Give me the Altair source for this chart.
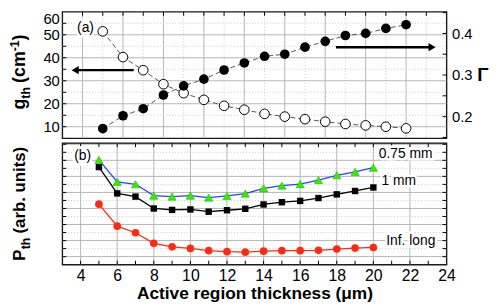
import altair as alt
import pandas as pd

# ---------------- data ----------------
thickness = [5, 6, 7, 8, 9, 10, 11, 12, 13, 14, 15, 16, 17, 18, 19, 20]
g_th = [51.5, 40.3, 34.6, 28.5, 24.6, 21.7, 19.1, 17.4, 15.6, 14.4, 13.3, 12.2, 11.2, 10.6, 10.0, 9.3]
gamma = [0.171, 0.202, 0.219, 0.252, 0.274, 0.290, 0.312, 0.329, 0.345, 0.350, 0.367, 0.381, 0.395, 0.400, 0.412, 0.421]
p_075 = [6.03, 4.66, 4.51, 3.80, 3.74, 3.80, 3.68, 3.78, 3.93, 4.25, 4.42, 4.52, 4.77, 5.07, 5.28, 5.54]
p_1mm = [5.58, 3.94, 3.74, 3.00, 2.91, 2.94, 2.80, 2.89, 2.98, 3.25, 3.39, 3.47, 3.65, 3.88, 4.09, 4.31]
p_inf = [3.27, 1.90, 1.49, 0.83, 0.61, 0.51, 0.37, 0.31, 0.28, 0.34, 0.37, 0.37, 0.39, 0.47, 0.53, 0.57]

g_ticks = [10, 20, 30, 40, 50, 60]
gamma_ticks = [0.2, 0.3, 0.4]
x_ticks = [4, 6, 8, 10, 12, 14, 16, 18, 20, 22, 24]

series_names = ["0.75 mm", "1 mm", "Inf. long"]
label_x = [20.3, 20.45, 20.7]
label_p = [6.4, 4.74, 1.0]

arrow_start = [6.53, 16.53]
arrow_tip = [3.44, 21.48]
arrow_g = [34.6, 44.6]

# ---------------- layout ----------------
FONT = "Liberation Sans"
W = 389
H1 = 128
H2 = 123
GRID = "#b5b5b5"
MINOR = "#c9c9c9"

xs_top = alt.Scale(domain=[3, 22], nice=False, zero=False)
xs_bot = alt.Scale(domain=[3, 24], nice=False, zero=False)
ys_g = alt.Scale(domain=[5, 60], nice=False, zero=False)
ys_gam = alt.Scale(domain=[0.148, 0.452], nice=False, zero=False)
ys_p = alt.Scale(domain=[-0.5, 7.07], nice=False, zero=False)

XB_AX = alt.Axis(
    values=x_ticks, title="Active region thickness (μm)", ticks=False, domain=False,
    grid=False, labelFont=FONT, labelFontSize=16, labelColor="black", labelPadding=3,
    labelFlush=False, labelOverlap=False, titleFont=FONT, titleFontSize=17.5,
    titleFontWeight="bold", titleColor="black", titlePadding=1)


def one():
    return pd.DataFrame({"a": [0]})


def vrules(values, scale, h, xaxis=None, **mk):
    return alt.Chart(pd.DataFrame({"gx": values})).mark_rule(**mk).encode(
        x=alt.X("gx:Q", scale=scale, axis=xaxis), y=alt.value(0), y2=alt.value(h))


def hrules(values, scale, **mk):
    return alt.Chart(pd.DataFrame({"gy": values})).mark_rule(**mk).encode(
        y=alt.Y("gy:Q", scale=scale, axis=None), x=alt.value(0), x2=alt.value(W))


def xticks(values, scale, y0, y1, xaxis=None):
    return alt.Chart(pd.DataFrame({"tx": values})).mark_rule(color="black", strokeWidth=1).encode(
        x=alt.X("tx:Q", scale=scale, axis=xaxis), y=alt.value(y0), y2=alt.value(y1))


def yticks(values, scale, x0, x1):
    return alt.Chart(pd.DataFrame({"ty": values})).mark_rule(color="black", strokeWidth=1).encode(
        y=alt.Y("ty:Q", scale=scale, axis=None), x=alt.value(x0), x2=alt.value(x1))


def tpiece(text, size, x, y, dx=0, dy=0):
    return alt.Chart(one()).mark_text(
        text=text, font=FONT, fontSize=size, fontWeight="bold", angle=270,
        align="left", baseline="alphabetic", dx=dx, dy=dy, color="black"
    ).encode(x=alt.value(x), y=alt.value(y))


def halo_text(df, xscale, yscale, size, xaxis=None):
    base = alt.Chart(df)
    enc = dict(x=alt.X("lx:Q", scale=xscale, axis=xaxis),
               y=alt.Y("ly:Q", scale=yscale, axis=None),
               text="name:N")
    back = base.mark_text(font=FONT, fontSize=size, align="left", baseline="middle",
                          color="white", stroke="white", strokeWidth=5).encode(**enc)
    front = base.mark_text(font=FONT, fontSize=size, align="left", baseline="middle",
                           color="black").encode(**enc)
    return [back, front]


# ---------------- top panel ----------------
df_top = pd.DataFrame({"t": thickness, "g": g_th, "gamma": gamma})
df_arrow = pd.DataFrame({"s": arrow_start, "tip": arrow_tip, "ag": arrow_g})

top_layers = [
    vrules(list(range(5, 22, 2)), xs_top, H1, color=MINOR, strokeWidth=1, strokeDash=[1, 2]),
    vrules(list(range(4, 22, 2)), xs_top, H1, color=GRID, strokeWidth=1),
    hrules([15, 25, 35, 45, 55], ys_g, color=MINOR, strokeWidth=1, strokeDash=[1, 2]),
    hrules([10, 20, 30, 40, 50], ys_g, color=GRID, strokeWidth=1),
    xticks(list(range(4, 22)), xs_top, 0, 4),
    yticks([10, 15, 20, 25, 30, 35, 40, 45, 50, 55], ys_g, 0, 4),
    yticks([0.15, 0.2, 0.25, 0.3, 0.35, 0.4, 0.45], ys_gam, W - 4, W),
    # g_th series
    alt.Chart(df_top).mark_line(color="#555", strokeWidth=1, strokeDash=[5, 3]).encode(
        x=alt.X("t:Q", scale=xs_top, axis=None),
        y=alt.Y("g:Q", scale=ys_g, axis=alt.Axis(
            orient="left", values=g_ticks, title=None, ticks=False, domain=False, grid=False,
            labelFont=FONT, labelFontSize=15, labelColor="black", labelPadding=3,
            labelFlush=True, labelOverlap=False))),
    alt.Chart(df_top).mark_point(shape="circle", filled=True, fill="white", stroke="black",
                                 strokeWidth=1, size=95, opacity=1).encode(
        x=alt.X("t:Q", scale=xs_top, axis=None),
        y=alt.Y("g:Q", scale=ys_g, axis=None)),
    # gamma series
    alt.Chart(df_top).mark_line(color="#555", strokeWidth=1, strokeDash=[5, 3]).encode(
        x=alt.X("t:Q", scale=xs_top, axis=None),
        y=alt.Y("gamma:Q", scale=ys_gam, axis=alt.Axis(
            orient="right", values=gamma_ticks, format=".1f", title=None, ticks=False,
            domain=False, grid=False, labelFont=FONT, labelFontSize=15, labelColor="black",
            labelPadding=5, labelOverlap=False))),
    alt.Chart(df_top).mark_point(shape="circle", filled=True, color="black", size=95,
                                 opacity=1).encode(
        x=alt.X("t:Q", scale=xs_top, axis=None),
        y=alt.Y("gamma:Q", scale=ys_gam, axis=None)),
    # arrows
    alt.Chart(df_arrow.iloc[[0]]).mark_rule(color="black", strokeWidth=2.4, x2Offset=5).encode(
        x=alt.X("s:Q", scale=xs_top, axis=None), x2="tip:Q",
        y=alt.Y("ag:Q", scale=ys_g, axis=None)),
    alt.Chart(df_arrow.iloc[[0]]).mark_point(shape="triangle-left", filled=True, color="black",
                                             size=70, opacity=1, xOffset=4).encode(
        x=alt.X("tip:Q", scale=xs_top, axis=None), y=alt.Y("ag:Q", scale=ys_g, axis=None)),
    alt.Chart(df_arrow.iloc[[1]]).mark_rule(color="black", strokeWidth=2.4, x2Offset=-5).encode(
        x=alt.X("s:Q", scale=xs_top, axis=None), x2="tip:Q",
        y=alt.Y("ag:Q", scale=ys_g, axis=None)),
    alt.Chart(df_arrow.iloc[[1]]).mark_point(shape="triangle-right", filled=True, color="black",
                                             size=70, opacity=1, xOffset=-4).encode(
        x=alt.X("tip:Q", scale=xs_top, axis=None), y=alt.Y("ag:Q", scale=ys_g, axis=None)),
]
top_layers += halo_text(pd.DataFrame({"name": ["(a)"], "lx": [3.73], "ly": [52.9]}), xs_top, ys_g, 14)
top_layers += [
    alt.Chart(pd.DataFrame({"gv": [0.3]})).mark_text(
        text="Γ", font=FONT, fontSize=19, fontWeight="bold", align="left", baseline="middle",
        color="black").encode(x=alt.value(W + 31), y=alt.Y("gv:Q", scale=ys_gam, axis=None)),
    # y title  g_th (cm^-1)
    tpiece("g", 18, -38, 99),
    tpiece("th", 12.5, -38, 99, dx=11, dy=5),
    tpiece("(cm", 18, -38, 99, dx=27),
    tpiece("-1", 12.5, -38, 99, dx=59, dy=-6),
    tpiece(")", 18, -38, 99, dx=70),
]

top = alt.layer(*top_layers).resolve_scale(y="independent").properties(width=W, height=H1)

# ---------------- bottom panel ----------------
df_bot = pd.DataFrame({"t": thickness, "p075": p_075, "p1": p_1mm, "pinf": p_inf})


def series(field, line_color, shape, fill, size, stroke=None):
    ln = alt.Chart(df_bot).mark_line(color=line_color, strokeWidth=1.3).encode(
        x=alt.X("t:Q", scale=xs_bot, axis=XB_AX), y=alt.Y(f"{field}:Q", scale=ys_p, axis=None))
    mk = dict(shape=shape, filled=True, fill=fill, size=size, opacity=1)
    if stroke:
        mk.update(stroke=stroke, strokeWidth=0.6)
    else:
        mk.update(strokeWidth=0)
    pt = alt.Chart(df_bot).mark_point(**mk).encode(
        x=alt.X("t:Q", scale=xs_bot, axis=XB_AX), y=alt.Y(f"{field}:Q", scale=ys_p, axis=None))
    return [ln, pt]


bot_layers = [
    hrules([0.5, 1.5, 2.5, 3.5, 4.5, 5.5, 6.5], ys_p, color=MINOR, strokeWidth=1, strokeDash=[1, 2]),
    hrules([0, 1, 2, 3, 4, 5, 6, 7], ys_p, color=GRID, strokeWidth=1),
    vrules(list(range(4, 24, 2)), xs_bot, H2, xaxis=XB_AX, color=GRID, strokeWidth=1),
    xticks(list(range(4, 24)), xs_bot, H2 - 4, H2, xaxis=XB_AX),
    xticks(list(range(4, 24)), xs_bot, 0, 4, xaxis=XB_AX),
    yticks([v / 2 for v in range(0, 15)], ys_p, 0, 4),
    yticks([v / 2 for v in range(0, 15)], ys_p, W - 4, W),
]
bot_layers += series("pinf", "#ff2a10", "circle", "#ff2a10", 60)
bot_layers += series("p1", "#000000", "square", "#000000", 42)
bot_layers += series("p075", "#2244ff", "triangle-up", "#33ee00", 70, stroke="#22bb00")
bot_layers += halo_text(pd.DataFrame({"name": series_names, "lx": label_x, "ly": label_p}),
                        xs_bot, ys_p, 14, xaxis=XB_AX)
bot_layers += halo_text(pd.DataFrame({"name": ["(b)"], "lx": [3.65], "ly": [6.28]}),
                        xs_bot, ys_p, 14, xaxis=XB_AX)
bot_layers += [
    tpiece("P", 17, -38, 119),
    tpiece("th", 12.5, -38, 119, dx=11.5, dy=5),
    tpiece("(arb. units)", 17, -38, 119, dx=27.5),
]

bottom = alt.layer(*bot_layers).properties(width=W, height=H2)

chart = alt.vconcat(top, bottom, spacing=1).resolve_scale(
    x="independent", y="independent"
).properties(
    padding={"left": 0, "top": 0, "right": 0, "bottom": 0}
).configure_view(stroke="#1a1a1a", strokeWidth=1.4)

chart.save("out.html", embed_options={"renderer": "svg", "actions": False})
